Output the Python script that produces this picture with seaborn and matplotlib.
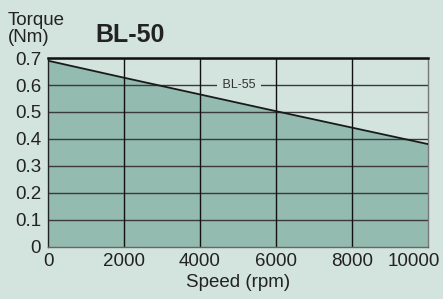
import matplotlib
matplotlib.use("Agg")
import matplotlib.pyplot as plt
from matplotlib.transforms import ScaledTranslation
import seaborn as sns
import pandas as pd

# Data
speed = [0, 2000, 4000, 6000, 8000, 10000]
torque = [0.69, 0.627, 0.565, 0.503, 0.442, 0.381]
yticks = [0, 0.1, 0.2, 0.3, 0.4, 0.5, 0.6, 0.7]
ytick_labels = ["0", "0.1", "0.2", "0.3", "0.4", "0.5", "0.6", "0.7"]
xticks = [0, 2000, 4000, 6000, 8000, 10000]

df = pd.DataFrame({"Speed": speed, "Torque": torque})

bg = "#d3e3dd"
fill = "#93bbaf"
ink = "#222222"

sns.set_style("white")
plt.rcParams["font.family"] = ["Liberation Sans", "DejaVu Sans"]

fig = plt.figure(figsize=(4.43, 2.99), dpi=100, facecolor=bg)
ax = fig.add_axes([0.1084, 0.174, 0.858, 0.632])
ax.set_facecolor(bg)

ax.fill_between(df["Speed"], df["Torque"], 0, color=fill, zorder=1, linewidth=0)
sns.lineplot(data=df, x="Speed", y="Torque", ax=ax, color="#1a1a1a", linewidth=1.3, zorder=4)

# grid lines
for y in yticks[1:]:
    ax.axhline(y, color="#3a3a3a", linewidth=1.0, zorder=2)
for x in xticks[1:-1]:
    ax.axvline(x, color="#111111", linewidth=1.0, zorder=2)

ax.set_xlim(0, 10000)
ax.set_ylim(0, 0.7)
ax.set_xticks(xticks)
ax.set_yticks(yticks)
ax.set_xticklabels([str(v) for v in xticks], fontsize=13.5, color=ink)
ax.set_yticklabels(ytick_labels, fontsize=13.5, color=ink)
ax.tick_params(axis="both", direction="out", length=4, width=1, color=ink, pad=1)
ax.tick_params(axis="x", pad=0)

# last x label pulled left so it stays inside the figure
last = ax.get_xticklabels()[-1]
last.set_transform(last.get_transform() + ScaledTranslation(-0.14, 0, fig.dpi_scale_trans))

for side in ["left", "bottom"]:
    ax.spines[side].set_color(ink)
    ax.spines[side].set_linewidth(1)
ax.spines["bottom"].set_color("#666666")
ax.spines["top"].set_color("#111111")
ax.spines["top"].set_linewidth(1.8)
ax.spines["right"].set_color("#777777")
ax.spines["right"].set_linewidth(1)

ax.set_xlabel("Speed (rpm)", fontsize=13.5, color=ink, labelpad=3)
ax.set_ylabel("")

ax.text(5030, 0.6, " BL-55 ", fontsize=9, color="#333333", ha="center", va="center",
        zorder=3, bbox=dict(boxstyle="square,pad=0.15", fc=bg, ec="none"))

fig.text(0.018, 0.916, "Torque", fontsize=13.5, color=ink, ha="left", va="baseline")
fig.text(0.018, 0.86, "(Nm)", fontsize=13.5, color=ink, ha="left", va="baseline")
fig.text(0.215, 0.86, "BL-50", fontsize=18, fontweight="bold", color=ink, ha="left", va="baseline")

fig.savefig("out.png", dpi=100, facecolor=bg)
